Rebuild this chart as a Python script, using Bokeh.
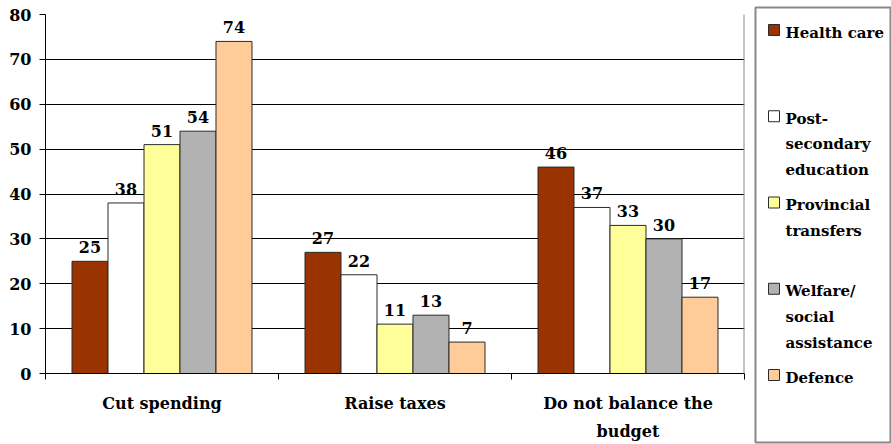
from bokeh.plotting import figure
from bokeh.layouts import row
from bokeh.models import Range1d, FixedTicker, Span, ColumnDataSource
from bokeh.core.properties import value
from bokeh.embed import file_html
from bokeh.resources import INLINE

categories = ["Cut spending", "Raise taxes", "Do not balance the\nbudget"]
series = ["Health care", "Post-\nsecondary\neducation", "Provincial\ntransfers",
          "Welfare/\nsocial\nassistance", "Defence"]
health_care = [25, 27, 46]
post_secondary = [38, 22, 37]
provincial_transfers = [51, 11, 33]
welfare = [54, 13, 30]
defence = [74, 7, 17]
values = [health_care, post_secondary, provincial_transfers, welfare, defence]
colors = ["#993300", "#FFFFFF", "#FFFF99", "#B2B2B2", "#FFCC99"]
y_ticks = [0, 10, 20, 30, 40, 50, 60, 70, 80]

FONT = "DejaVu Serif"

p = figure(width=750, height=444, output_backend="svg", toolbar_location=None,
           x_range=Range1d(0, len(categories)), y_range=Range1d(0, 80),
           min_border_left=45, min_border_right=6, min_border_top=14, min_border_bottom=69)
p.outline_line_color = None
p.background_fill_color = "white"
p.frame_align = False

bw = 0.1545
n = len(series)
for i, (vals, col) in enumerate(zip(values, colors)):
    off = (i - (n - 1) / 2) * bw
    xs = [k + 0.5 + off for k in range(len(categories))]
    src = ColumnDataSource(dict(x=xs, top=vals, lab=[str(v) for v in vals]))
    p.vbar(x="x", top="top", width=bw, source=src, fill_color=col,
           line_color="#2a2a2a", line_width=1)
    p.text(x="x", y="top", text="lab", source=src, text_align="center",
           text_baseline="alphabetic", y_offset=-14, text_font=value(FONT),
           text_font_style="bold", text_font_size="16px", text_color="black")

p.add_layout(Span(location=len(categories), dimension="height",
                  line_color="#888888", line_width=2))

# y axis
p.yaxis.ticker = FixedTicker(ticks=y_ticks)
p.yaxis.major_tick_out = 6
p.yaxis.major_tick_in = 0
p.yaxis.minor_tick_line_color = None
p.yaxis.axis_line_color = "black"
p.yaxis.major_tick_line_color = "black"
p.yaxis.major_label_standoff = 8
p.yaxis.major_label_text_font = FONT
p.yaxis.major_label_text_font_style = "bold"
p.yaxis.major_label_text_font_size = "16px"
p.yaxis.major_label_text_color = "black"

# x axis
centers = [k + 0.5 for k in range(len(categories))]
bounds = list(range(len(categories) + 1))
p.xaxis.ticker = FixedTicker(ticks=centers, minor_ticks=bounds)
p.xaxis.major_label_overrides = {c: lab for c, lab in zip(centers, categories)}
p.xaxis.major_tick_line_color = None
p.xaxis.major_tick_out = 6
p.xaxis.minor_tick_out = 6
p.xaxis.minor_tick_in = 0
p.xaxis.minor_tick_line_color = "black"
p.xaxis.axis_line_color = "black"
p.xaxis.major_label_standoff = 14
p.xaxis.major_label_text_font = FONT
p.xaxis.major_label_text_font_style = "bold"
p.xaxis.major_label_text_font_size = "16px"
p.xaxis.major_label_text_color = "black"
p.xaxis.major_label_text_line_height = 1.5

p.xgrid.grid_line_color = None
p.ygrid.grid_line_color = "black"
p.ygrid.grid_line_width = 1

# legend panel (frame = legend box)
lg = figure(width=141, height=444, output_backend="svg", toolbar_location=None,
            x_range=Range1d(5, 140), y_range=Range1d(442, 7),
            min_border_left=5, min_border_right=1, min_border_top=7, min_border_bottom=2)
lg.frame_align = False
lg.axis.visible = False
lg.grid.grid_line_color = None
lg.outline_line_color = "#888888"
lg.outline_line_width = 2
tops = [25 + i * 86.25 for i in range(n)]
lg.rect(x=[23.5] * n, y=[t + 4.5 for t in tops], width=11, height=11,
        fill_color=colors, line_color="#2a2a2a", line_width=1)
lg.text(x=[35] * n, y=[t - 2 for t in tops], text=series, text_align="left",
        text_baseline="top", text_font=value(FONT), text_font_style="bold",
        text_font_size="15px", text_color="black", text_line_height=1.43)

layout = row(p, lg)
open("out.html", "w").write(file_html(layout, INLINE))
